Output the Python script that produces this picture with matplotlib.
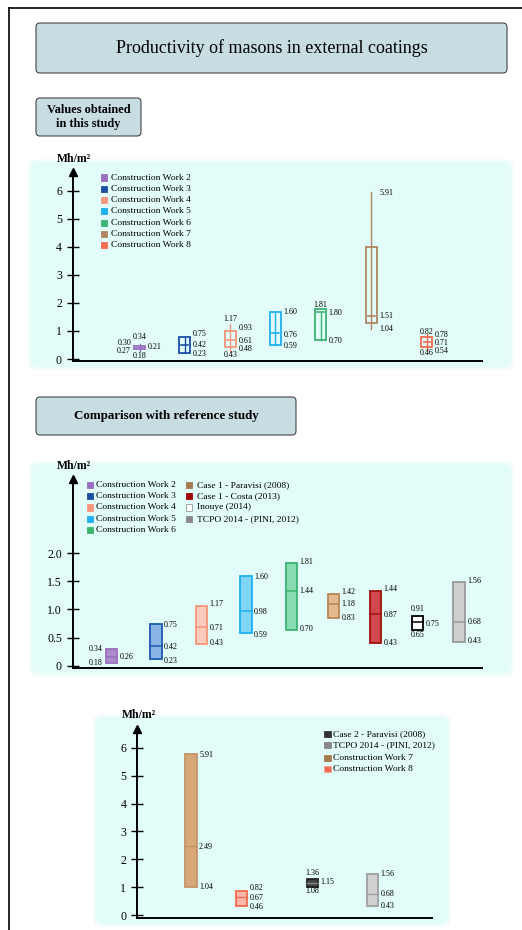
import matplotlib
matplotlib.use("Agg")
import matplotlib.pyplot as plt
from matplotlib.patches import Rectangle, FancyBboxPatch

plt.rcParams['font.family'] = ['Liberation Serif', 'DejaVu Serif']

W, H = 522, 930

# ---------------- data ----------------
# panel 1: values obtained in this study (box plots)
names1 = ['Construction Work 2', 'Construction Work 3', 'Construction Work 4',
          'Construction Work 5', 'Construction Work 6', 'Construction Work 7',
          'Construction Work 8']
colors1 = ['#9b6dc0', '#1c4fa3', '#f5967a', '#1eb0f0', '#3cb371', '#b08660', '#f26b50']
p1_whisk_lo = [0.30, 0.22, 0.26, 0.51, 0.68, 1.07, 0.32]
p1_box_lo = [0.35, 0.22, 0.42, 0.51, 0.68, 1.27, 0.42]
p1_median = [0.41, 0.50, 0.68, 0.92, 1.67, 1.53, 0.59]
p1_box_hi = [0.47, 0.79, 1.01, 1.66, 1.77, 3.98, 0.78]
p1_whisk_hi = [0.53, 0.79, 1.24, 1.66, 1.67, 5.94, 0.88]
p1_labels = [
    [('0.34', 't', 0.77), ('0.30', 'l', 0.57), ('0.27', 'l', 0.28), ('0.21', 'r', 0.42), ('0.18', 'b', 0.11)],
    [('0.75', 'r', 0.89), ('0.42', 'r', 0.51), ('0.23', 'r', 0.18)],
    [('1.17', 't', 1.42), ('0.93', 'r', 1.09), ('0.61', 'r', 0.65), ('0.48', 'r', 0.37), ('0.43', 'b', 0.14)],
    [('1.60', 'r', 1.69), ('0.76', 'r', 0.85), ('0.59', 'r', 0.46)],
    [('1.81', 't', 1.94), ('1.80', 'r', 1.64), ('0.70', 'r', 0.63)],
    [('5.91', 'r', 5.93), ('1.51', 'r', 1.53), ('1.04', 'r', 1.06)],
    [('0.82', 't', 0.97), ('0.78', 'r', 0.85), ('0.71', 'r', 0.58), ('0.54', 'r', 0.30), ('0.46', 'b', 0.20)],
]

# panel 2: comparison with reference study (min / mean / max bars)
names2 = ['Construction Work 2', 'Construction Work 3', 'Construction Work 4',
          'Construction Work 5', 'Construction Work 6', 'Case 1 - Paravisi (2008)',
          'Case 1 - Costa (2013)', 'Inouye (2014)', 'TCPO 2014 - (PINI, 2012)']
legend2_colors = ['#9b6dc0', '#1c4fa3', '#f5967a', '#1eb0f0', '#3cb371',
                  '#a67a50', '#a00000', '#ffffff', '#888888']
face2 = ['#ab8dcb', '#8ab4e6', '#fccbbb', '#80d5f6', '#88dbb0', '#e3b98e', '#d2474d', '#ffffff', '#cfcfcf']
edge2 = ['#9b6dc0', '#1c5ab0', '#f5967a', '#1eb0f0', '#3cb371', '#b58658', '#a01010', '#000000', '#999999']
p2_lo = [0.05, 0.11, 0.38, 0.58, 0.63, 0.85, 0.41, 0.63, 0.42]
p2_med = [0.16, 0.35, 0.68, 0.97, 1.33, 1.09, 0.92, 0.77, 0.77]
p2_hi = [0.29, 0.74, 1.07, 1.59, 1.83, 1.28, 1.33, 0.89, 1.49]
p2_labels = [
    [('0.34', 'l', 0.30), ('0.18', 'l', 0.05), ('0.26', 'r', 0.15)],
    [('0.75', 'r', 0.72), ('0.42', 'r', 0.33), ('0.23', 'r', 0.09)],
    [('1.17', 'r', 1.09), ('0.71', 'r', 0.67), ('0.43', 'r', 0.40)],
    [('1.60', 'r', 1.58), ('0.98', 'r', 0.96), ('0.59', 'r', 0.54)],
    [('1.81', 'r', 1.84), ('1.44', 'r', 1.33), ('0.70', 'r', 0.65)],
    [('1.42', 'r', 1.31), ('1.18', 'r', 1.10), ('0.83', 'r', 0.84)],
    [('1.44', 'r', 1.36), ('0.87', 'r', 0.90), ('0.43', 'r', 0.41)],
    [('0.91', 't', 1.00), ('0.75', 'r', 0.75), ('0.65', 'b', 0.54)],
    [('1.56', 'r', 1.50), ('0.68', 'r', 0.77), ('0.43', 'r', 0.43)],
]

# panel 3: construction works 7 and 8 against references
names3 = ['Case 2 - Paravisi (2008)', 'TCPO 2014 - (PINI, 2012)',
          'Construction Work 7', 'Construction Work 8']
legend3_colors = ['#333333', '#888888', '#a67a4f', '#f06a50']
legend3_edges = ['#333333', '#888888', '#a67a4f', '#f8a595']
face3 = ['#d8a878', '#fbb8a8', '#444444', '#d0d0d0']
edge3 = ['#c09468', '#f06a50', '#222222', '#a0a0a0']
p3_lo = [1.02, 0.33, 1.02, 0.33]
p3_med = [2.47, 0.65, 1.17, 0.75]
p3_hi = [5.79, 0.87, 1.31, 1.47]
p3_labels = [
    [('5.91', 'r', 5.74), ('2.49', 'r', 2.45), ('1.04', 'r', 1.02)],
    [('0.82', 'r', 0.96), ('0.67', 'r', 0.63), ('0.46', 'r', 0.31)],
    [('1.36', 't', 1.52), ('1.15', 'r', 1.18), ('1.08', 'b', 0.86)],
    [('1.56', 'r', 1.49), ('0.68', 'r', 0.77), ('0.43', 'r', 0.34)],
]

# ---------------- layout ----------------
pos1 = [66.5, 111.5, 157.5, 202.3, 247.5, 298.3, 354]
pos2 = [38.3, 82.8, 128.3, 173, 218.5, 260.3, 302.5, 344.5, 386.2]
pos3 = [53.5, 104.4, 175.2, 235]
bw = 11.5

fig = plt.figure(figsize=(W / 100, H / 100), dpi=100)
bg = fig.add_axes([0, 0, 1, 1])
bg.set_xlim(0, W)
bg.set_ylim(H, 0)
bg.axis('off')

# outer frame (left + top)
bg.plot([9, 9], [8, H], color='black', lw=1.2)
bg.plot([9, W], [8, 8], color='black', lw=1.2)


def header(x0, y0, x1, y1, text, size, weight='normal'):
    bg.add_patch(FancyBboxPatch((x0, y0), x1 - x0, y1 - y0,
                                boxstyle='round,pad=0,rounding_size=4',
                                fc='#c8dde2', ec='#444444', lw=0.8))
    bg.text((x0 + x1) / 2, (y0 + y1) / 2, text, ha='center', va='center',
            fontsize=size, weight=weight, linespacing=1.15)


def panel_bg(x0, y0, x1, y1):
    for pad, a in [(4, 0.35), (2, 0.6), (0, 1.0)]:
        bg.add_patch(FancyBboxPatch((x0 - pad, y0 - pad), x1 - x0 + 2 * pad, y1 - y0 + 2 * pad,
                                    boxstyle='round,pad=0,rounding_size=8',
                                    fc='#e1fcf9', ec='none', alpha=a))


header(36, 23, 507, 73, 'Productivity of masons in external coatings', 13)
header(36, 98, 141, 136, 'Values obtained\nin this study', 8.8, 'bold')
header(36, 397, 296, 435, 'Comparison with reference study', 9.4, 'bold')

panel_bg(32, 163, 510, 366)
panel_bg(33, 465, 510, 672)
panel_bg(97, 718, 447, 923)

for xc, yc in [(74.3, 159), (74.3, 466), (138.7, 715)]:
    bg.text(xc, yc, 'Mh/m²', ha='center', va='center', fontsize=8.5, weight='bold')


def legend(x_sq, x_txt, ys, names, colors, edges=None):
    for i, (y, n, c) in enumerate(zip(ys, names, colors)):
        ec = edges[i] if edges else ('#999999' if c == '#ffffff' else c)
        bg.add_patch(Rectangle((x_sq, y - 3.2), 6.4, 6.4, fc=c, ec=ec, lw=0.6))
        bg.text(x_txt, y, n, ha='left', va='center', fontsize=6.8)


legend(101, 111, [177.7, 189, 200.3, 211.3, 222.7, 234, 245.3], names1, colors1)
legend(86.7, 96, [484.7, 496, 507.3, 518.7, 530], names2[:5], legend2_colors[:5])
legend(186, 196.7, [484.7, 496, 507.3, 518.7], names2[5:], legend2_colors[5:])
legend(324.3, 333.3, [733.7, 744.7, 757.7, 769], names3, legend3_colors, legend3_edges)


def make_axes(x0, x1, ytop, ybot, ylo, yhi, ticks, ticklabels):
    ax = fig.add_axes([x0 / W, 1 - ybot / H, (x1 - x0) / W, (ybot - ytop) / H])
    ax.patch.set_alpha(0)
    ax.set_xlim(0, x1 - x0)
    ax.set_ylim(ylo, yhi)
    for s in ['top', 'right']:
        ax.spines[s].set_visible(False)
    for s in ['left', 'bottom']:
        ax.spines[s].set_linewidth(1.4)
    ax.set_xticks([])
    ax.set_yticks(ticks)
    ax.set_yticklabels(ticklabels, fontsize=8.5)
    ax.tick_params(axis='y', direction='inout', length=8, width=1, pad=4)
    ax.plot(0, 1, marker='^', ms=6, color='black', transform=ax.transAxes, clip_on=False)
    return ax


def put_labels(ax, x, labels, w):
    for txt, side, y in labels:
        if side == 'r':
            ax.text(x + w / 2 + 2.5, y, txt, ha='left', va='center', fontsize=5.8)
        elif side == 'l':
            ax.text(x - w / 2 - 3, y, txt, ha='right', va='center', fontsize=5.8)
        else:
            ax.text(x, y, txt, ha='center', va='center', fontsize=5.8)


# panel 1
ax1 = make_axes(73, 482, 172, 360.7, -0.06, 6.67, range(7), [str(t) for t in range(7)])
for i in range(len(names1)):
    x, c = pos1[i], colors1[i]
    w = 11
    ax1.add_patch(Rectangle((x - w / 2, p1_box_lo[i]), w, p1_box_hi[i] - p1_box_lo[i],
                            fill=False, ec=c, lw=1.3))
    ax1.plot([x, x], [p1_whisk_lo[i], p1_whisk_hi[i]], color=c, lw=1.0)
    ax1.plot([x - w * 0.3, x + w * 0.3], [p1_median[i], p1_median[i]], color=c, lw=1.2)
    put_labels(ax1, x, p1_labels[i], w)

# panel 2
ax2 = make_axes(73, 482, 479, 667.7, -0.036, 3.32, [0, 0.5, 1.0, 1.5, 2.0],
                ['0', '0.5', '1.0', '1.5', '2.0'])
for i in range(len(names2)):
    x = pos2[i]
    ax2.add_patch(Rectangle((x - bw / 2, p2_lo[i]), bw, p2_hi[i] - p2_lo[i],
                            fc=face2[i], ec=edge2[i], lw=1.3))
    ax2.plot([x - bw / 2, x + bw / 2], [p2_med[i], p2_med[i]], color=edge2[i], lw=1.1)
    put_labels(ax2, x, p2_labels[i], bw)

# panel 3
ax3 = make_axes(137.3, 431.7, 729, 918.3, -0.11, 6.67, range(7), [str(t) for t in range(7)])
for i in range(len(p3_lo)):
    x = pos3[i]
    ax3.add_patch(Rectangle((x - bw / 2, p3_lo[i]), bw, p3_hi[i] - p3_lo[i],
                            fc=face3[i], ec=edge3[i], lw=1.3))
    mc = '#888888' if i == 2 else edge3[i]
    ax3.plot([x - bw / 2, x + bw / 2], [p3_med[i], p3_med[i]], color=mc, lw=1.0)
    put_labels(ax3, x, p3_labels[i], bw)

fig.savefig('out.png', dpi=100)
